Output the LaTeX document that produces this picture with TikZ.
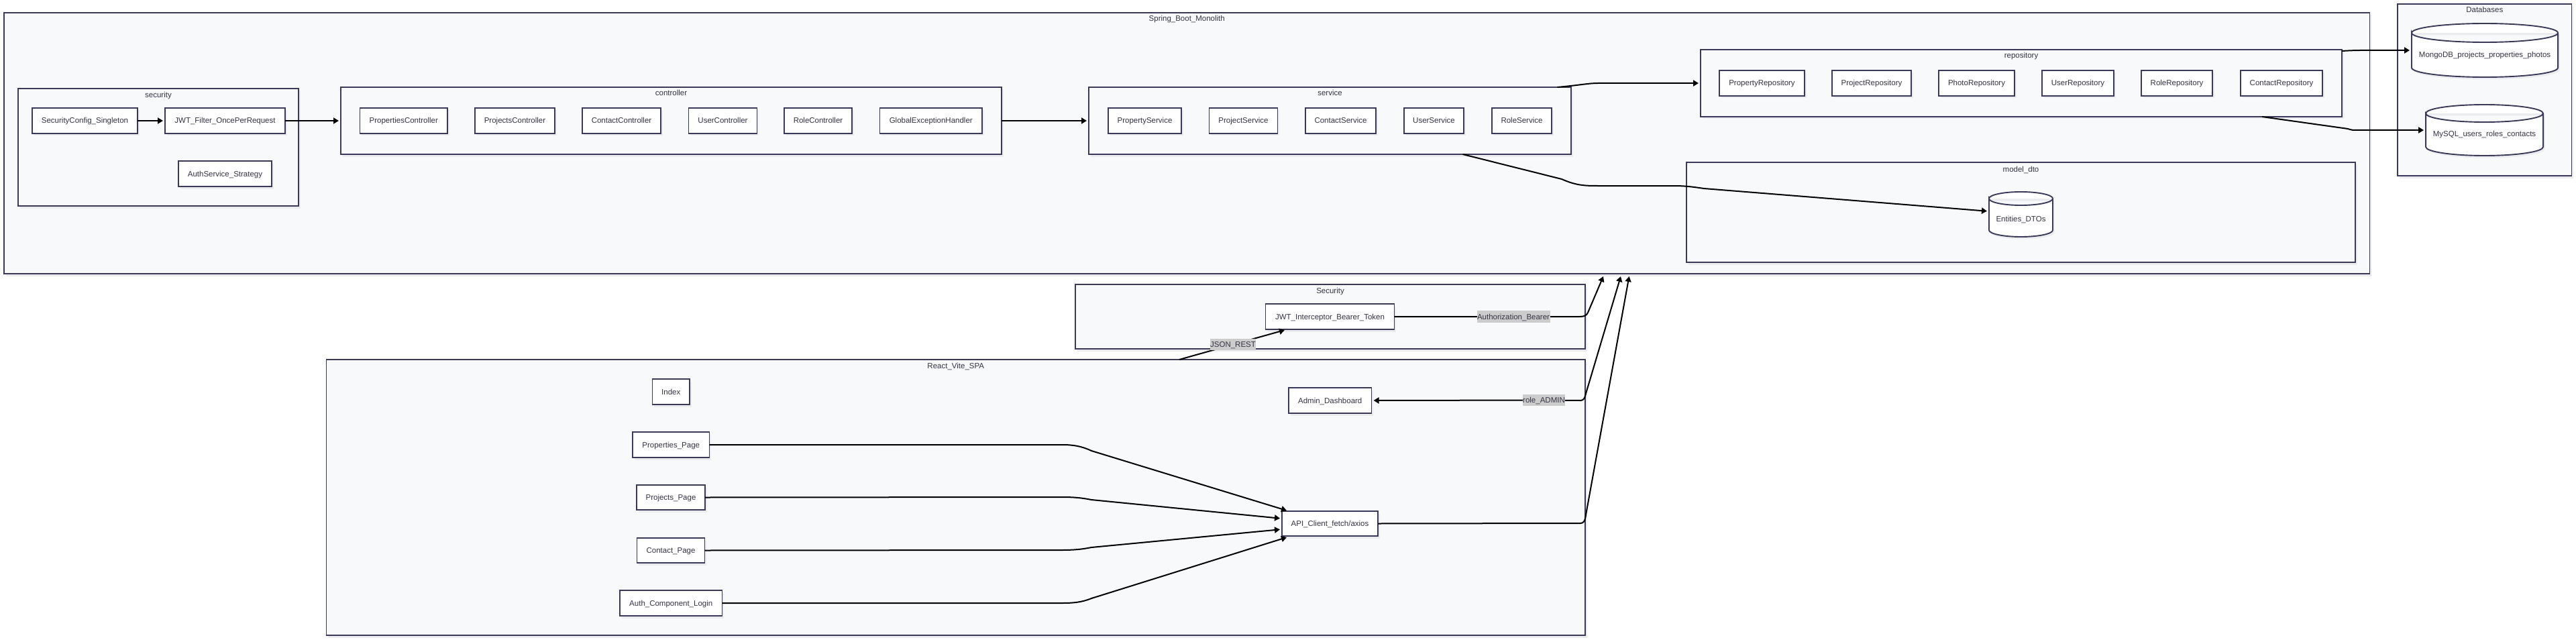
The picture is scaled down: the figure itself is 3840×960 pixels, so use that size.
\documentclass[tikz,border=0pt]{standalone}
\usepackage{fontspec}
\setmainfont{Liberation Sans}
\usetikzlibrary{arrows.meta,shadows,calc}
\definecolor{strokec}{HTML}{3A3A58}
\definecolor{clusterc}{HTML}{F8F9FB}
\definecolor{labelc}{HTML}{CCCCCC}
\definecolor{textc}{HTML}{333344}
\definecolor{shadowc}{HTML}{EBEBF0}
\pgfdeclarelayer{under}
\pgfsetlayers{under,main}
\tikzset{
  every node/.style={font=\fontsize{11.5pt}{13pt}\selectfont,text=textc,text height=10.5pt,text depth=2.5pt},
  softshadow/.style={general shadow={shadow xshift=2.5pt,shadow yshift=-3.5pt,fill=shadowc}},
  clusterbox/.style={rectangle,draw=strokec,line width=1.7pt,fill=clusterc,inner sep=0pt,outer sep=0pt,softshadow},
  classbox/.style={rectangle,draw=strokec,line width=1.9pt,fill=white,inner sep=0pt,outer sep=0pt,softshadow},
  dbshape/.style={draw=strokec,line width=1.9pt,fill=white,softshadow},
  dbanchor/.style={rectangle,inner sep=0pt,outer sep=0pt},
  dbtext/.style={inner sep=0pt},
  titletext/.style={inner sep=0pt},
  conn/.style={draw=black,line width=2pt,-{Triangle[length=8pt,width=9pt]},shorten >=3pt},
  tag/.style={fill=labelc,inner sep=0pt,minimum height=17.5pt},
}
\newcommand{\clu}[7]{\node[clusterbox,minimum width={(#4-#2)*1pt},minimum height={(#5-#3)*1pt}] (#1) at ({(#2+#4)/2},{(#3+#5)/2}) {};
  \node[titletext] (#1title) at ({(#2+#4)/2},#6) {#7};}
\newcommand{\bx}[6]{\node[classbox,minimum width={(#4-#2)*1pt},minimum height={(#5-#3)*1pt}] (#1) at ({(#2+#4)/2},{(#3+#5)/2}) {#6};}
\newcommand{\dbcyl}[8]{%
  \draw[dbshape] (#2,{#3+#6}) arc[start angle=180,end angle=0,x radius={(#4-#2)/2*1pt},y radius={#6*1pt}] arc[start angle=0,end angle=-180,x radius={(#4-#2)/2*1pt},y radius={#6*1pt}] -- (#2,{#5-#6}) arc[start angle=180,end angle=360,x radius={(#4-#2)/2*1pt},y radius={#6*1pt}] -- (#4,{#3+#6});
  \node[dbanchor,minimum width={(#4-#2)*1pt},minimum height={(#5-#3)*1pt}] (#1) at ({(#2+#4)/2},{(#3+#5)/2}) {};
  \node[dbtext] (#1text) at ({(#2+#4)/2},#7) {#8};}
\begin{document}
\begin{tikzpicture}[x=1pt,y=-1pt]
\useasboundingbox (0,0) rectangle (3840,960);
\begin{pgfonlayer}{under}
\fill[white] (0,0) rectangle (3840,960);
% clusters
\clu{spring}{6}{19}{3532.5}{408}{28}{Spring\_Boot\_Monolith}
\clu{secA}{27}{132}{445}{307}{142}{security}
\clu{controller}{508}{130}{1493}{230}{139}{controller}
\clu{service}{1623}{130}{2342}{230}{139}{service}
\clu{repo}{2535}{74}{3491}{174}{83}{repository}
\clu{model}{2514}{242}{3511}{391}{252}{model\_dto}
\clu{dbs}{3574}{6}{3833.5}{262}{15}{Databases}
\clu{secB}{1603}{424}{2363}{520}{433}{Security}
\clu{react}{486.5}{536}{2363}{947}{545}{React\_Vite\_SPA}
% security
\bx{sc}{48}{161}{205}{199}{SecurityConfig\_Singleton}
\bx{jf}{246}{161}{425}{199}{JWT\_Filter\_OncePerRequest}
\bx{as}{266}{240}{405}{278}{AuthService\_Strategy}
% controllers
\bx{c1}{536.5}{161}{667}{199}{PropertiesController}
\bx{c2}{708}{161}{827}{199}{ProjectsController}
\bx{c3}{868}{161}{985}{199}{ContactController}
\bx{c4}{1026.5}{161}{1128.5}{199}{UserController}
\bx{c5}{1169}{161}{1270}{199}{RoleController}
\bx{c6}{1311.5}{161}{1464}{199}{GlobalExceptionHandler}
% services
\bx{s1}{1652}{161}{1761}{199}{PropertyService}
\bx{s2}{1802.5}{161}{1904.5}{199}{ProjectService}
\bx{s3}{1946}{161}{2051}{199}{ContactService}
\bx{s4}{2093}{161}{2182}{199}{UserService}
\bx{s5}{2224}{161}{2313}{199}{RoleService}
% repositories
\bx{r1}{2563}{105}{2690}{143}{PropertyRepository}
\bx{r2}{2731}{105}{2849}{143}{ProjectRepository}
\bx{r3}{2890}{105}{3003}{143}{PhotoRepository}
\bx{r4}{3044}{105}{3151}{143}{UserRepository}
\bx{r5}{3192}{105}{3298}{143}{RoleRepository}
\bx{r6}{3340}{105}{3462}{143}{ContactRepository}
% cylinders
\dbcyl{ent}{2965}{286}{3060}{353}{10}{326}{Entities\_DTOs}
\dbcyl{mongo}{3595}{35}{3813}{115}{14}{82}{MongoDB\_projects\_properties\_photos}
\dbcyl{mysql}{3616}{156}{3791}{232}{13}{200}{MySQL\_users\_roles\_contacts}
% front end
\bx{jwt}{1886.5}{453}{2078.5}{491}{JWT\_Interceptor\_Bearer\_Token}
\bx{idx}{972.5}{565}{1028}{603}{Index}
\bx{pp}{943}{644}{1057.5}{682}{Properties\_Page}
\bx{prj}{949}{723}{1051}{760}{Projects\_Page}
\bx{cp}{949.5}{802}{1050.5}{839}{Contact\_Page}
\bx{ac}{924}{880}{1076.5}{918}{Auth\_Component\_Login}
\bx{adm}{1921}{578}{2044.5}{616}{Admin\_Dashboard}
\bx{api}{1911}{762}{2054}{799}{API\_Client\_fetch/axios}
\end{pgfonlayer}
% edge labels
\node[tag,minimum width=109pt] (lauth) at (2256,472) {Authorization\_Bearer};
\node[tag,minimum width=68pt] (ljson) at (1838,513.5) {JSON\_REST};
\node[tag,minimum width=63pt] (lrole) at (2301.5,596.5) {role\_ADMIN};
% free ends
\coordinate (tipa) at (2390,412);
\coordinate (tipb) at (2416,412);
\coordinate (tipc) at (2428.5,412);
% connectors
\begin{pgfonlayer}{under}
\draw[conn] (sc) -- (jf);
\draw[conn] (jf) -- (controller.west);
\draw[conn] (controller) -- (service);
\draw[conn] ([xshift=-20.5pt]service.north east) .. controls (2355,127) and (2368,124) .. (2382,124) -- (repo.west);
\draw[conn] ([xshift=-161.5pt]service.south east) -- (2328,267) .. controls (2350,277) and (2365,277) .. (2382,277) -- (2494,277) .. controls (2510,277) and (2520,278) .. (2540,281) -- ([yshift=4.5pt]ent.west);
\draw[conn] ([yshift=48pt]repo.east) .. controls (3500,75.5) and (3510,75) .. (3518,75) -- (mongo.west);
\draw[conn] ([xshift=-119pt]repo.south east) -- (3500,192) .. controls (3505,194) and (3508,194) .. (3512,194) -- (mysql.west);
\draw[conn,shorten >=0pt] ([xshift=-605pt]react.north east) -- (1915,492);
\draw[conn,shorten >=0pt] (jwt.east) -- (2355,472) .. controls (2362,472) and (2365,470) .. (2367,466) -- (tipa);
\draw[conn,shorten >=0pt] (lrole.center) -- (2356,597) .. controls (2360,597) and (2362,594) .. (2363,590) -- (tipb);
\draw[conn] (lrole.center) -- (adm.east);
\draw[conn,shorten >=0pt] (api.east) -- (2356,780) .. controls (2360,780) and (2362,777) .. (2363,773) -- (tipc);
\draw[conn,shorten >=0pt] (pp.east) -- (1583,663) .. controls (1600,663) and (1612,665) .. (1627,672) -- (1918,761);
\draw[conn] (prj.east) -- (1583,741) .. controls (1600,741) and (1612,742) .. (1627,745) -- ([yshift=7.5pt]api.west);
\draw[conn] (cp.east) -- (1583,820) .. controls (1600,820) and (1612,819) .. (1627,816) -- ([yshift=-8.5pt]api.west);
\draw[conn,shorten >=0pt] (ac.east) -- (1583,899) .. controls (1600,899) and (1612,898) .. (1627,892) -- (1918,801);
\end{pgfonlayer}
\end{tikzpicture}
\end{document}
